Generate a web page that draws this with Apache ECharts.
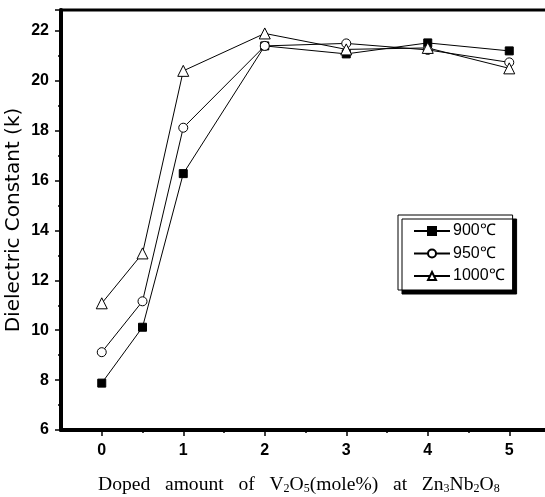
<!DOCTYPE html>
<html style="height: 100%">
<head>
    <meta charset="utf-8">
    <script src="https://cdn.jsdelivr.net/npm/echarts@6/dist/echarts.min.js"></script>
</head>
<body style="height: 100%; margin: 0; background: #fff">
<div id="container" style="width: 545px; height: 497px"></div>
<script type="text/javascript">
    // doping amount (mole%)
    var doping = [0, 0.5, 1, 2, 3, 4, 5];
    var t900 = [7.88, 10.12, 16.28, 21.4, 21.08, 21.52, 21.2];
    var t950 = [9.12, 11.16, 18.12, 21.4, 21.5, 21.24, 20.74];
    var t1000 = [11.08, 13.08, 20.4, 21.9, 21.26, 21.32, 20.5];
    var xMajor = [0, 1, 2, 3, 4, 5];
    var xMinor = [0.5, 1.5, 2.5, 3.5, 4.5];

    function pairs(vals) {
        return doping.map(function (d, i) { return [d, vals[i]]; });
    }

    var dom = document.getElementById("container");
    var myChart = echarts.init(dom);
    var tickFont = { color: '#000', fontFamily: 'Liberation Sans', fontWeight: 'bold', fontSize: 16 };

    var option = {
        animation: false,
        backgroundColor: '#fff',
        grid: {
            left: 61, top: 10, right: -5, bottom: 67,
            outerBoundsMode: 'none',
            show: true, borderColor: '#000', borderWidth: 3
        },
        legend: {
            orient: 'vertical',
            left: 398, top: 215,
            padding: [8, 8, 6, 15],
            itemWidth: 36, itemHeight: 10, itemGap: 6.5,
            backgroundColor: '#fff',
            borderColor: '#000', borderWidth: 1,
            shadowColor: '#000', shadowBlur: 0, shadowOffsetX: 4, shadowOffsetY: 4,
            textStyle: { color: '#000', fontFamily: 'Liberation Sans', fontSize: 16, padding: [0, 0, 0, -2] },
            data: ['900℃', '950℃', '1000℃']
        },
        xAxis: [{
            type: 'value', min: -0.5, max: 5.5,
            axisLine: { onZero: false, lineStyle: { color: '#000', width: 4 } },
            axisTick: { customValues: xMajor, length: 6, lineStyle: { color: '#000', width: 1.5 } },
            axisLabel: Object.assign({ customValues: xMajor, margin: 13 }, tickFont),
            splitLine: { show: false }
        }, {
            type: 'value', min: -0.5, max: 5.5, position: 'bottom',
            axisLine: { show: false, onZero: false },
            axisTick: { customValues: xMinor, length: 3, lineStyle: { color: '#000', width: 1.5 } },
            axisLabel: { show: false },
            splitLine: { show: false }
        }],
        yAxis: {
            type: 'value', min: 6, max: 22.84, interval: 2,
            name: 'Dielectric Constant (k)',
            nameLocation: 'middle', nameGap: 37, nameMoveOverlap: false,
            nameTextStyle: { color: '#000', fontFamily: 'DejaVu Sans', fontSize: 20 },
            axisLine: { onZero: false, lineStyle: { color: '#000', width: 4 } },
            axisTick: { length: 6, lineStyle: { color: '#000', width: 1.5 } },
            minorTick: { show: true, splitNumber: 2, length: 3, lineStyle: { color: '#000', width: 1.5 } },
            axisLabel: Object.assign({ margin: 12, formatter: function (v) { return v % 2 === 0 ? v : ''; } }, tickFont),
            splitLine: { show: false }
        },
        graphic: [{
            type: 'text',
            left: 98, top: 475,
            style: {
                text: 'Doped   amount   of   V{s|2}O{s|5}(mole%)   at   Zn{s|3}Nb{s|2}O{s|8}',
                font: '19.6px "Liberation Serif"',
                fill: '#000',
                rich: {
                    s: { fontSize: 12, fontFamily: 'Liberation Serif', verticalAlign: 'bottom', lineHeight: 15, fill: '#000' }
                }
            }
        }],
        series: [{
            name: '900℃', type: 'line', data: pairs(t900),
            symbol: 'rect', symbolSize: 8,
            lineStyle: { color: '#000', width: 1 },
            itemStyle: { color: '#000', borderColor: '#000', borderWidth: 1 }
        }, {
            name: '950℃', type: 'line', data: pairs(t950),
            symbol: 'circle', symbolSize: 9,
            lineStyle: { color: '#000', width: 1 },
            itemStyle: { color: '#fff', borderColor: '#000', borderWidth: 1 }
        }, {
            name: '1000℃', type: 'line', data: pairs(t1000),
            symbol: 'triangle', symbolSize: 11,
            lineStyle: { color: '#000', width: 1 },
            itemStyle: { color: '#fff', borderColor: '#000', borderWidth: 1 }
        }]
    };

    if (option && typeof option === "object") {
        myChart.setOption(option, true);
    }
</script>
</body>
</html>
